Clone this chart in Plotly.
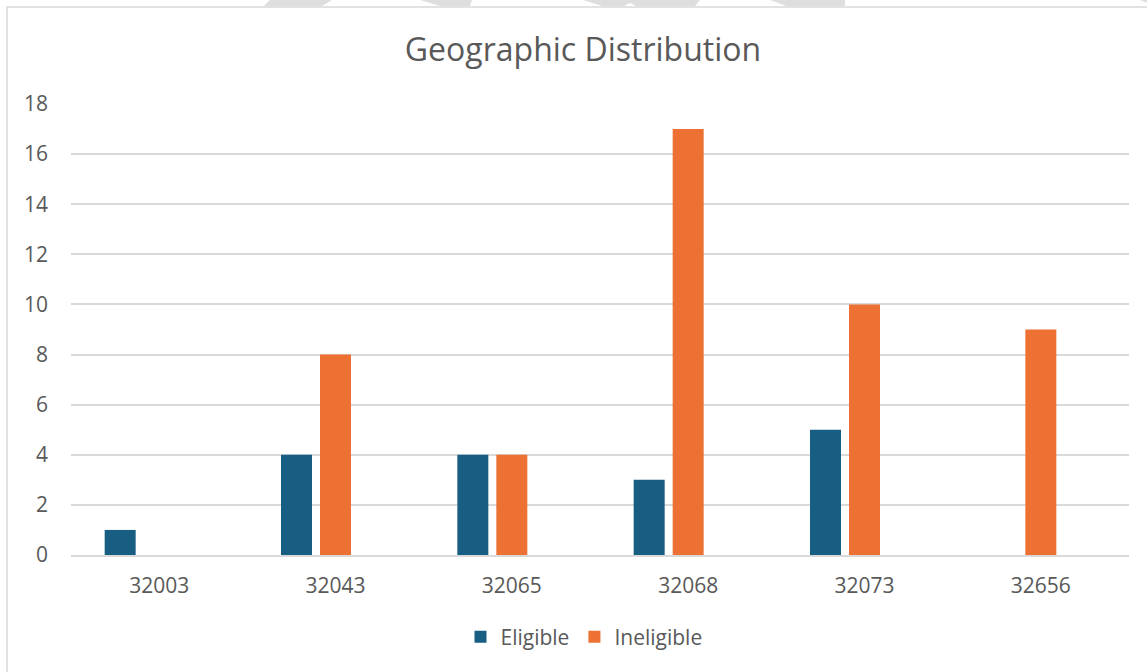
import plotly.graph_objects as go

categories = ["32003", "32043", "32065", "32068", "32073", "32656"]
eligible = [1, 4, 4, 3, 5, 0]
ineligible = [0, 8, 4, 17, 10, 9]
y_ticks = [0, 2, 4, 6, 8, 10, 12, 14, 16, 18]

W, H = 1147, 672
L, R, T, B = 71, 1129, 104, 555
CAT = (R - L) / len(categories)

def px(x):
    return (x - L) / (R - L)

def py(y):
    return (B - y) / (B - T)

FONT = "Open Sans"
GREY = "#595959"
BAR_W = 31 / CAT

fig = go.Figure()
fig.add_trace(go.Bar(name="Eligible", x=categories, y=eligible, marker_color="#175E82",
                     width=BAR_W, offset=-54.5 / CAT, marker_line_width=0))
fig.add_trace(go.Bar(name="Ineligible", x=categories, y=ineligible, marker_color="#EC7133",
                     width=BAR_W, offset=-15.5 / CAT, marker_line_width=0))

shapes = [
    dict(type="rect", xref="paper", yref="paper", x0=px(7), x1=px(1160), y0=py(7), y1=py(690),
         line=dict(color="#d9d9d9", width=1.5), fillcolor="rgba(0,0,0,0)", layer="below"),
]
# faint watermark fragments along the top edge
wm = [
    [(270, 0), (332, 0), (322, 6), (264, 6)],
    [(420, 0), (472, 0), (470, 6), (440, 6)],
    [(583, 0), (700, 0), (695, 6), (636, 6), (630, 3), (624, 6), (602, 6)],
    [(770, 0), (845, 0), (845, 6), (786, 6)],
    [(1140, 0), (1147, 0), (1147, 3)],
]
for poly in wm:
    path = "M " + " L ".join(f"{px(x)},{py(y)}" for x, y in poly) + " Z"
    shapes.append(dict(type="path", xref="paper", yref="paper", path=path,
                       fillcolor="#dedede", line=dict(width=0), layer="below"))

fig.update_layout(
    width=W, height=H,
    margin=dict(l=L, r=W - R, t=T, b=H - B),
    paper_bgcolor="white", plot_bgcolor="white",
    barmode="overlay",
    title=dict(text="Geographic Distribution", x=px(583), xref="paper", xanchor="center",
               y=1 - 50 / H, yanchor="middle",
               font=dict(family=FONT, size=32, color=GREY)),
    font=dict(family=FONT, size=21, color=GREY),
    xaxis=dict(showgrid=False, showline=True, linecolor="#d9d9d9", linewidth=1.5,
               ticks="", ticklabelstandoff=11, tickfont=dict(size=21, color=GREY)),
    yaxis=dict(range=[0, 18], tickvals=y_ticks, showgrid=True, gridcolor="#d9d9d9",
               gridwidth=1.5, zeroline=False, showline=False, ticks="",
               ticklabelstandoff=22, tickfont=dict(size=21, color=GREY)),
    legend=dict(orientation="h", x=px(584), xanchor="center", y=py(637), yanchor="middle",
                font=dict(size=21, color=GREY), itemsizing="constant",
                traceorder="normal"),
    shapes=shapes,
)

fig.write_html("out.html", post_script="document.body.style.margin='0';",
               config={"displayModeBar": False})
